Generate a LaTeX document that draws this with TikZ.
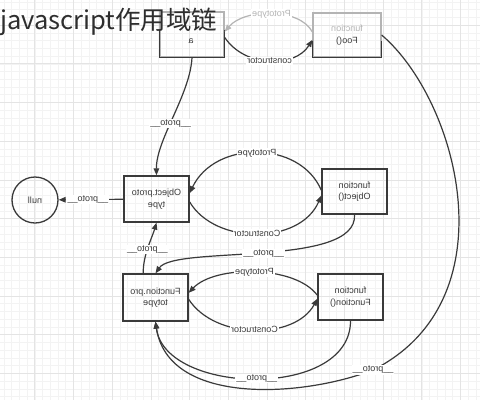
\documentclass[tikz,border=0pt]{standalone}
\usepackage{fontspec}
\usepackage{graphicx}
\setmainfont{Liberation Sans}
\newfontfamily\cjk{Noto Sans CJK SC}
\usetikzlibrary{arrows.meta}
\definecolor{ink}{HTML}{3A3A3A}
\definecolor{faint}{HTML}{B4B4B4}
\definecolor{gridmaj}{HTML}{E4E4E4}
\definecolor{gridmin}{HTML}{F3F3F3}
\definecolor{titleink}{HTML}{2E2E2E}
\newcommand\mirr[1]{\reflectbox{#1}}
\newcommand\mtwo[2]{\reflectbox{\begin{tabular}{@{}c@{}}#1\\#2\end{tabular}}}
\begin{document}
\begin{tikzpicture}[x=1pt,y=-1pt,
  box/.style={draw=ink,line width=1.3pt,minimum width=65pt,minimum height=46pt,inner sep=0pt,
    font=\fontsize{9}{11.5}\selectfont,text=ink},
  link/.style={draw=ink,line width=1.2pt,-{Triangle[length=7pt,width=5.5pt]}},
  lightlink/.style={draw=faint,line width=1.2pt,-{Triangle[length=7pt,width=5.5pt]}},
  lbl/.style={fill=white,inner sep=1pt,font=\fontsize{9}{10}\selectfont,text=ink},
  gmin/.style={draw=gridmin,line width=0.4pt},
  gmaj/.style={draw=gridmaj,line width=0.6pt}
 ]
\useasboundingbox (0,0) rectangle (480,400);
\fill[white] (0,0) rectangle (480,400);
% grid
\foreach \i in {0,...,61} { \draw[gmin] ({3.74+\i*7.74},0) -- ({3.74+\i*7.74},400); }
\foreach \j in {0,...,51} { \draw[gmin] (0,{1.78+\j*7.74}) -- (480,{1.78+\j*7.74}); }
\foreach \i in {0,...,11} { \draw[gmaj] ({34.7+\i*38.7},0) -- ({34.7+\i*38.7},400); }
\foreach \j in {0,...,9} { \draw[gmaj] (0,{25+\j*38.7}) -- (480,{25+\j*38.7}); }

% nodes
\node[box,draw=faint,minimum width=64pt,minimum height=45pt] (a) at (192,34.5) {};
\draw[ink,line width=1.3pt] ([yshift=28pt]a.south west) -- (a.south west) -- (a.south east) -- ([yshift=28pt]a.south east);
\node[font=\fontsize{9}{10}\selectfont,text=ink] (atext) at (191,41) {\mirr{a}};
\node[box,draw=faint,minimum width=68pt,minimum height=44pt] (foo) at (347,35)
  {\mtwo{\textcolor{faint}{function}}{Foo()}};
\draw[ink,line width=1.3pt] ([yshift=17pt]foo.south west) -- (foo.south west) -- (foo.south east) -- ([yshift=17pt]foo.south east);
\node[box] (op) at (156.5,199) {\mtwo{Object.proto}{type}};
\node[box,minimum height=47pt] (fp) at (155.5,297.5) {\mtwo{Function.pro}{totype}};
\node[box,minimum height=45pt] (obj) at (354.5,191.5) {\mtwo{function}{Object()}};
\node[box] (fun) at (350.5,297) {\mtwo{function}{Function()}};
\node[draw=ink,circle,line width=1.3pt,minimum size=46pt,inner sep=0pt,
  font=\fontsize{9}{10}\selectfont,text=ink] (null) at (35,200) {\mirr{null}};

% title
\node[anchor=base west,inner sep=0pt,font=\cjk\fontsize{25.5}{27}\selectfont,text=titleink] (title) at (0,29.5) {javascript作用域链};

% connectors
\draw[lightlink] (foo.175) .. controls (300,8) and (245,8) .. node[lbl,text=faint]{\mirr{Prototype}} (a.5);
\draw[link] (a.-5) .. controls (245,68) and (295,68) .. node[lbl]{\mirr{constructor}} (foo.188);
\draw[link] (a.south) .. controls (190,95) and (156,140) .. node[lbl,pos=.55]{\mirr{\_\_proto\_\_}} (op.north);
\draw[link] (op) -- node[lbl,pos=.55]{\mirr{\_\_proto\_\_}} (null);
\draw[link] (obj.178) .. controls (300,140) and (215,140) .. node[lbl]{\mirr{Prototype}} (op.10);
\draw[link] (op.-5) .. controls (215,245) and (300,245) .. node[lbl]{\mirr{Constructor}} (obj.187);
\draw[link] (obj.south) .. controls (358,268) and (175,245) .. node[lbl]{\mirr{\_\_proto\_\_}} (fp.north);
\draw[link] (fp.117) .. controls (143,255) and (152,238) .. node[lbl,pos=.45]{\mirr{\_\_proto\_\_}} (op.south);
\draw[link] (fun.177) .. controls (295,265) and (215,265) .. node[lbl]{\mirr{Prototype}} (fp.8);
\draw[link] (fp.-3) .. controls (215,340) and (295,340) .. node[lbl]{\mirr{Constructor}} (fun.183);
\draw[link] (fun.south) .. controls (351,400) and (165,395) .. node[lbl]{\mirr{\_\_proto\_\_}} (fp.south);
\draw[link] (foo.east) .. controls (458,100) and (512,300) .. (373,370) node[lbl]{\mirr{\_\_proto\_\_}}
  .. controls (300,398) and (168,405) .. (fp.south);
\end{tikzpicture}
\end{document}
